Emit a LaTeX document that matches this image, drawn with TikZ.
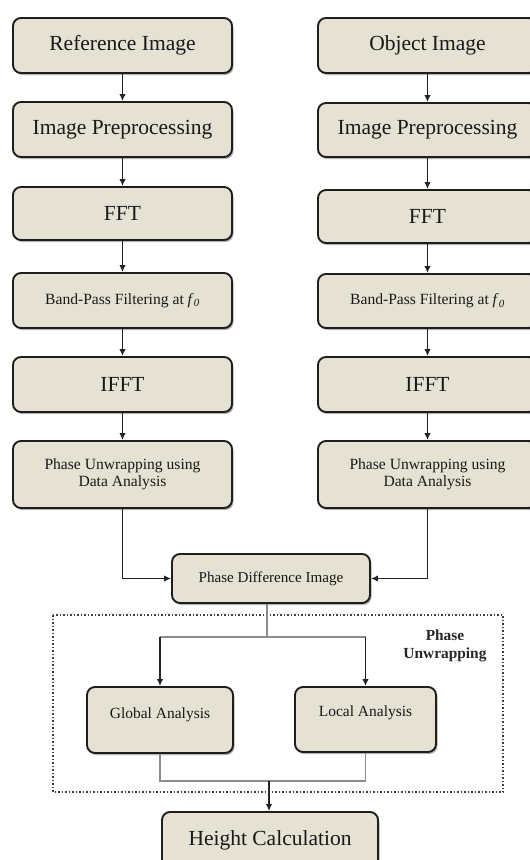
\documentclass[tikz,border=0pt]{standalone}
\usepackage{fontspec}
\setmainfont{Liberation Serif}
\usetikzlibrary{arrows.meta,shadows}
\definecolor{boxfill}{RGB}{229,225,211}
\definecolor{boxline}{RGB}{30,30,30}
\definecolor{wire}{RGB}{35,35,35}
\definecolor{greywire}{RGB}{140,140,140}
\tikzset{
  box/.style={draw=boxline, line width=1.9pt, fill=boxfill, rounded corners=8pt,
    align=center, inner sep=0pt, text=black!90,
    drop shadow={shadow xshift=1.5pt, shadow yshift=-2pt, opacity=0.3, fill=black}},
  bigtxt/.style={font=\fontsize{21.5}{24}\selectfont},
  smalltxt/.style={font=\fontsize{15.6}{17.3}\selectfont},
  colbox/.style={box, minimum width=219pt},
  arr/.style={draw=wire, line width=1.5pt, -{Latex[length=7pt,width=6.5pt]}},
  gln/.style={draw=greywire, line width=1.4pt},
}
\begin{document}
\begin{tikzpicture}[x=1pt,y=-1pt]
\useasboundingbox (0,0) rectangle (530,860);
% left column
\node[colbox, bigtxt, minimum height=55pt] (r1) at (122.5,45.5) {Reference Image};
\node[colbox, bigtxt, minimum height=55pt] (r2) at (122.5,129.5) {Image Preprocessing};
\node[colbox, bigtxt, minimum height=53pt] (r3) at (122.5,213.5) {FFT};
\node[colbox, smalltxt, minimum height=55pt] (r4) at (122.5,300.5) {Band-Pass Filtering at \textit{f}\textsubscript{\textit{0}}};
\node[colbox, bigtxt, minimum height=55pt] (r5) at (122.5,384.5) {IFFT};
\node[colbox, smalltxt, minimum height=67pt] (r6) at (122.5,474.5) {Phase Unwrapping using\\Data Analysis};
% right column
\node[colbox, bigtxt, minimum height=55pt] (o1) at (427.5,45.5) {Object Image};
\node[colbox, bigtxt, minimum height=54pt] (o2) at (427.5,130) {Image Preprocessing};
\node[colbox, bigtxt, minimum height=53pt] (o3) at (427.5,216.5) {FFT};
\node[colbox, smalltxt, minimum height=54pt] (o4) at (427.5,301) {Band-Pass Filtering at \textit{f}\textsubscript{\textit{0}}};
\node[colbox, bigtxt, minimum height=55pt] (o5) at (427.5,384.5) {IFFT};
\node[colbox, smalltxt, minimum height=67pt] (o6) at (427.5,474.5) {Phase Unwrapping using\\Data Analysis};
% centre
\node[box, minimum width=198pt, minimum height=49pt, font=\fontsize{15.1}{17}\selectfont] (pd) at (271,578.5) {Phase Difference Image};
\draw[dotted, line width=1.5pt, draw=black!75] (53,615) rectangle (503,792);
\node[font=\bfseries\fontsize{15.4}{18}\selectfont, align=center, text=black!85] (pu) at (445,646) {Phase\\Unwrapping};
\node[box, minimum width=146pt, minimum height=66pt, font=\fontsize{15.5}{17}\selectfont, text depth=14pt, text height=10pt] (ga) at (160,720) {Global Analysis};
\node[box, minimum width=141pt, minimum height=65pt, font=\fontsize{15.5}{17}\selectfont, text depth=16pt, text height=10pt] (la) at (365.5,719.5) {Local Analysis};
\node[box, bigtxt, minimum width=216pt, minimum height=56pt] (hc) at (270,840) {Height Calculation};
% connectors
\foreach \a/\b in {r1/r2,r2/r3,r3/r4,r4/r5,r5/r6,o1/o2,o2/o3,o3/o4,o4/o5,o5/o6}
  \draw[arr] (\a.south) -- (\b.north);
\draw[arr] (r6.south) |- (pd.west);
\draw[arr] (o6.south) |- (pd.east);
\coordinate (split) at (267,637);
\draw[gln] (pd.south -| split) -- (split);
\draw[gln] (ga.north |- split) -- (la.north |- split);
\draw[arr] (ga.north |- split) -- (ga.north);
\draw[arr] (la.north |- split) -- (la.north);
\coordinate (join) at (269,781);
\draw[gln] (ga.south) -- (ga.south |- join) -- (la.south |- join) -- (la.south);
\draw[arr] (join) -- (hc.north -| join);
\end{tikzpicture}
\end{document}
